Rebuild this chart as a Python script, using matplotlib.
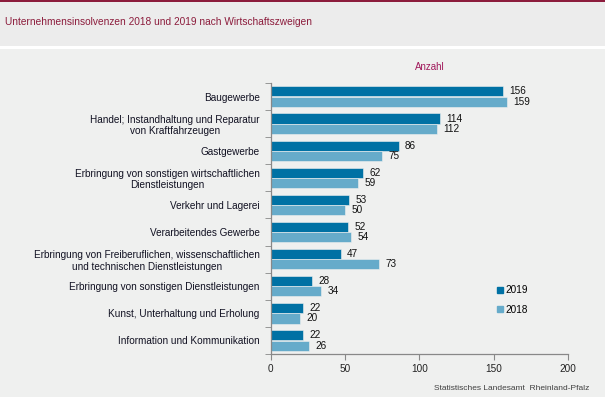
import matplotlib.pyplot as plt
from matplotlib.patches import Rectangle, Patch
import numpy as np

plt.rcParams['font.family'] = ['Liberation Sans', 'DejaVu Sans']

categories = [
    "Baugewerbe",
    "Handel; Instandhaltung und Reparatur\nvon Kraftfahrzeugen",
    "Gastgewerbe",
    "Erbringung von sonstigen wirtschaftlichen\nDienstleistungen",
    "Verkehr und Lagerei",
    "Verarbeitendes Gewerbe",
    "Erbringung von Freiberuflichen, wissenschaftlichen\nund technischen Dienstleistungen",
    "Erbringung von sonstigen Dienstleistungen",
    "Kunst, Unterhaltung und Erholung",
    "Information und Kommunikation",
]
v2019 = [156, 114, 86, 62, 53, 52, 47, 28, 22, 22]
v2018 = [159, 112, 75, 59, 50, 54, 73, 34, 20, 26]
xticks = [0, 50, 100, 150, 200]

c2019 = '#0071a4'
c2018 = '#66abca'
bg = '#eff0ef'
dark_red = '#8c1c3c'

fig = plt.figure(figsize=(6.05, 3.97), dpi=100)
fig.patch.set_facecolor(bg)
# title band, white gap and top line
fig.patches.append(Rectangle((0, 1 - 46/397), 1, 46/397, transform=fig.transFigure,
                             facecolor='#ececec', edgecolor='none', zorder=0))
fig.patches.append(Rectangle((0, 1 - 49/397), 1, 3/397, transform=fig.transFigure,
                             facecolor='white', edgecolor='none', zorder=0))
fig.patches.append(Rectangle((0, 1 - 2/397), 1, 2/397, transform=fig.transFigure,
                             facecolor=dark_red, edgecolor='none', zorder=1))

ax = fig.add_axes([270.7/605, 1 - 354/397, (568 - 270.7)/605, (354 - 83)/397])
ax.set_facecolor(bg)

n = len(categories)
y = np.arange(n)
h = 0.37
ax.barh(y - 0.19, v2019, height=h, color=c2019, edgecolor=bg, linewidth=0.4)
ax.barh(y + 0.19, v2018, height=h, color=c2018, edgecolor=bg, linewidth=0.4)
for i in range(n):
    ax.annotate(str(v2019[i]), (v2019[i], y[i] - 0.19), xytext=(4.5, 0),
                textcoords='offset points', va='center', fontsize=7.2, color='#111111')
    ax.annotate(str(v2018[i]), (v2018[i], y[i] + 0.19), xytext=(4.5, 0),
                textcoords='offset points', va='center', fontsize=7.2, color='#111111')

ax.set_xlim(0, 200)
ax.set_ylim(n - 0.5, -0.5)
ax.set_xticks(xticks)
ax.set_xticklabels([str(t) for t in xticks], fontsize=7.2, color='#222222')
ax.set_yticks(y)
ax.set_yticklabels(categories, fontsize=7.2, color='#111122', multialignment='center')
ax.set_yticks(np.arange(n + 1) - 0.5, minor=True)
ax.tick_params(axis='y', which='major', length=0, pad=8)
ax.tick_params(axis='y', which='minor', length=4, color='#888888', direction='out')
ax.tick_params(axis='x', length=4, color='#888888', pad=3)
for s in ['top', 'right']:
    ax.spines[s].set_visible(False)
for s in ['left', 'bottom']:
    ax.spines[s].set_color('#888888')
    ax.spines[s].set_linewidth(0.9)

ax.legend(handles=[Patch(color=c2019, label='2019'), Patch(color=c2018, label='2018')],
          loc='upper left', bbox_to_anchor=(0.73, 0.287), frameon=False, fontsize=7.2,
          handlelength=0.6, handleheight=0.6, handletextpad=0.3, labelspacing=0.95)

fig.text(5/605, 1 - 22/397, "Unternehmensinsolvenzen 2018 und 2019 nach Wirtschaftszweigen",
         fontsize=7.3, color=dark_red, va='center', ha='left')
fig.text(430/605, 1 - 67/397, "Anzahl", fontsize=7, color='#a0185a', va='center', ha='center')
fig.text(589/605, 1 - 389/397, "Statistisches Landesamt  Rheinland-Pfalz", fontsize=6,
         color='#404040', va='center', ha='right')

fig.savefig('out.png', dpi=100, facecolor=fig.get_facecolor())
